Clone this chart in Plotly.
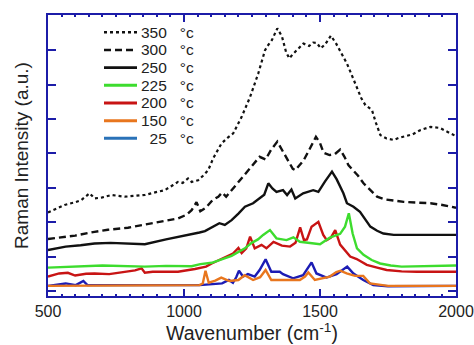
import plotly.graph_objects as go

# ---- data (wavenumber cm-1, intensity a.u.) ----
x350 = [500, 530, 561, 600, 622, 653, 671, 700, 733, 782, 820, 856, 890, 929, 960, 978, 995, 1015, 1028, 1052, 1070, 1089, 1107, 1126, 1138, 1160, 1181, 1212, 1243, 1273, 1298, 1310, 1323, 1343, 1360, 1375, 1387, 1400, 1420, 1439, 1460, 1475, 1488, 1503, 1520, 1540, 1560, 1580, 1599, 1618, 1636, 1652, 1667, 1691, 1705, 1722, 1745, 1771, 1790, 1808, 1840, 1870, 1906, 1940, 1970, 2000]
y350 = [2.28, 2.38, 2.50, 2.58, 2.64, 2.84, 2.69, 2.72, 2.79, 2.74, 2.76, 2.79, 2.86, 2.93, 3.08, 3.17, 3.14, 3.27, 3.17, 3.22, 3.35, 3.51, 3.85, 4.10, 4.29, 4.45, 4.58, 5.06, 5.64, 6.32, 7.0, 7.15, 7.29, 7.63, 7.40, 6.95, 6.76, 6.88, 7.05, 7.19, 7.12, 7.22, 7.21, 7.05, 7.18, 7.42, 7.18, 6.90, 6.61, 6.25, 5.93, 5.60, 5.40, 5.26, 4.90, 4.53, 4.43, 4.39, 4.45, 4.48, 4.55, 4.68, 4.77, 4.74, 4.62, 4.50]

x300 = [500, 550, 600, 671, 720, 794, 850, 917, 978, 1010, 1028, 1046, 1060, 1080, 1105, 1126, 1140, 1155, 1175, 1204, 1237, 1260, 1278, 1300, 1320, 1343, 1360, 1380, 1400, 1409, 1425, 1440, 1463, 1485, 1500, 1513, 1535, 1555, 1574, 1590, 1605, 1623, 1640, 1660, 1685, 1710, 1740, 1771, 1808, 1850, 1906, 1950, 2000]
y300 = [1.51, 1.56, 1.61, 1.72, 1.78, 1.84, 1.92, 2.01, 2.11, 2.22, 2.35, 2.58, 2.32, 2.42, 2.64, 2.74, 2.86, 2.74, 2.93, 3.22, 3.51, 3.75, 3.90, 3.82, 4.10, 4.34, 4.10, 3.80, 3.55, 3.51, 3.65, 3.80, 4.14, 4.48, 4.30, 4.02, 3.95, 3.98, 4.11, 3.90, 3.65, 3.50, 3.35, 3.13, 2.92, 2.74, 2.66, 2.62, 2.59, 2.57, 2.55, 2.50, 2.42]

x250 = [500, 565, 620, 671, 730, 786, 856, 934, 1003, 1057, 1077, 1110, 1130, 1150, 1175, 1200, 1224, 1254, 1280, 1295, 1310, 1325, 1340, 1364, 1379, 1395, 1409, 1438, 1475, 1494, 1518, 1544, 1561, 1586, 1599, 1623, 1647, 1670, 1685, 1710, 1733, 1771, 1856, 1950, 2000]
y250 = [1.19, 1.29, 1.33, 1.38, 1.40, 1.38, 1.36, 1.50, 1.60, 1.70, 1.74, 1.88, 1.97, 1.92, 2.06, 2.25, 2.45, 2.55, 2.70, 2.80, 3.13, 2.98, 2.88, 2.93, 2.79, 2.95, 2.69, 2.84, 2.93, 2.88, 3.18, 3.47, 3.25, 2.84, 2.55, 2.45, 2.30, 2.05, 1.87, 1.75, 1.67, 1.63, 1.63, 1.63, 1.63]

x225 = [500, 600, 700, 856, 934, 1028, 1060, 1102, 1140, 1175, 1224, 1249, 1272, 1291, 1316, 1340, 1377, 1402, 1426, 1464, 1500, 1536, 1574, 1592, 1606, 1620, 1636, 1660, 1690, 1721, 1760, 1800, 1900, 2000]
y225 = [0.68, 0.71, 0.74, 0.71, 0.73, 0.72, 0.78, 0.82, 0.92, 1.02, 1.24, 1.40, 1.50, 1.63, 1.77, 1.53, 1.48, 1.56, 1.43, 1.40, 1.36, 1.55, 1.66, 1.87, 2.26, 1.67, 1.24, 1.05, 0.90, 0.80, 0.74, 0.71, 0.72, 0.74]

x200 = [500, 541, 573, 600, 640, 671, 725, 786, 820, 844, 856, 885, 978, 1040, 1081, 1102, 1143, 1180, 1200, 1212, 1229, 1243, 1260, 1285, 1303, 1329, 1360, 1390, 1410, 1427, 1441, 1452, 1469, 1494, 1512, 1525, 1540, 1556, 1574, 1598, 1611, 1635, 1672, 1710, 1745, 1800, 1856, 2000]
y200 = [0.42, 0.51, 0.53, 0.45, 0.50, 0.51, 0.49, 0.56, 0.60, 0.66, 0.53, 0.56, 0.56, 0.64, 0.71, 0.80, 0.95, 1.09, 1.25, 1.10, 1.24, 1.58, 1.24, 1.34, 1.24, 1.43, 1.32, 1.29, 1.40, 1.85, 1.48, 1.50, 1.87, 2.01, 1.63, 1.48, 1.55, 1.77, 1.35, 1.12, 1.00, 0.93, 0.76, 0.68, 0.61, 0.57, 0.56, 0.56]

x150 = [500, 688, 1057, 1069, 1079, 1091, 1115, 1137, 1167, 1200, 1223, 1254, 1280, 1300, 1321, 1426, 1445, 1457, 1481, 1536, 1560, 1575, 1598, 1629, 1659, 1684, 1750, 2000]
y150 = [0.15, 0.15, 0.17, 0.22, 0.59, 0.24, 0.30, 0.39, 0.29, 0.32, 0.46, 0.32, 0.40, 0.61, 0.32, 0.32, 0.42, 0.54, 0.32, 0.42, 0.55, 0.59, 0.51, 0.44, 0.44, 0.22, 0.15, 0.15]

x25 = [500, 540, 565, 602, 615, 630, 645, 700, 811, 1057, 1140, 1165, 1180, 1192, 1202, 1217, 1235, 1260, 1278, 1290, 1300, 1321, 1352, 1364, 1401, 1438, 1455, 1469, 1487, 1524, 1561, 1585, 1600, 1623, 1659, 1696, 1750, 2000]
y25 = [0.15, 0.18, 0.22, 0.17, 0.22, 0.29, 0.17, 0.17, 0.15, 0.17, 0.22, 0.32, 0.24, 0.40, 0.59, 0.42, 0.49, 0.42, 0.61, 0.80, 0.92, 0.56, 0.56, 0.49, 0.37, 0.46, 0.65, 0.83, 0.51, 0.39, 0.49, 0.62, 0.71, 0.51, 0.32, 0.17, 0.14, 0.15]

labels = ["350", "300", "250", "225", "200", "150", "25"]
colors = ["#111111", "#111111", "#111111", "#3ddc2e", "#c81414", "#e8761e", "#1c1cb4"]
legend_colors = ["#111111", "#111111", "#111111", "#3ddc2e", "#c81414", "#e8761e", "#2a72b8"]
dashes = ["dot", "7px,4px", "solid", "solid", "solid", "solid", "solid"]
xs = [x350, x300, x250, x225, x200, x150, x25]
ys = [y350, y300, y250, y225, y200, y150, y25]

FONT = "Liberation Sans, Arial, sans-serif"
AX = "#1c1ca8"

fig = go.Figure()
for i in reversed(range(len(labels))):
    fig.add_trace(go.Scatter(
        x=xs[i], y=ys[i], mode="lines", name=labels[i] + " °c",
        line=dict(color=colors[i], width=2.4 if i != 0 else 2.2, dash=dashes[i]),
        showlegend=False, hoverinfo="skip"))

# legend (drawn manually to match the tight row spacing of the original)
L, R, T, B = 48, 456, 15, 296
row0, row_step = 32.3, 17.67  # pixel rows
def px2paper_x(px):
    return (px - L) / (R - L)
def px2paper_y(py):
    return (B - py) / (B - T)
NB = "\u00a0"
for i, lab in enumerate(labels):
    yy = px2paper_y(row0 + i * row_step)
    fig.add_shape(type="line", xref="paper", yref="paper",
                  x0=px2paper_x(104), x1=px2paper_x(137), y0=yy, y1=yy,
                  line=dict(color=legend_colors[i], width=3 if i > 2 else 2.6,
                            dash=dashes[i] if i < 2 else "solid"))
    pad = NB * (2 * (3 - len(lab)))
    fig.add_annotation(xref="paper", yref="paper", x=px2paper_x(140), y=yy,
                       text=pad + lab + NB * 3 + "°c", showarrow=False,
                       xanchor="left", yanchor="middle", borderpad=0,
                       font=dict(family=FONT, size=15.5, color="#222"))

fig.update_layout(
    width=474, height=345,
    margin=dict(l=L, r=474 - R, t=T, b=345 - B, autoexpand=False),
    paper_bgcolor="white", plot_bgcolor="white",
    font=dict(family=FONT, size=16, color="#222"),
    showlegend=False,
)
fig.update_xaxes(
    range=[500, 2000], tickvals=[500, 1000, 1500, 2000],
    ticks="inside", ticklen=7, tickwidth=2, tickcolor=AX,
    minor=dict(dtick=50, tick0=500, ticks="inside", ticklen=2, tickwidth=2, tickcolor=AX),
    showline=True, linecolor=AX, linewidth=2, mirror="ticks",
    showgrid=False, zeroline=False, automargin=False,
    tickfont=dict(family=FONT, size=16, color="#222"),
    title=dict(text="Wavenumber (cm<sup>-1</sup>)", font=dict(family=FONT, size=19.5, color="#222"), standoff=3),
)
fig.update_yaxes(
    range=[-0.145, 8.02], dtick=1, tick0=0,
    ticks="inside", ticklen=8, tickwidth=1.5, tickcolor=AX,
    showticklabels=False,
    showline=True, linecolor=AX, linewidth=2, mirror="ticks",
    showgrid=False, zeroline=False, automargin=False,
    title=dict(text="Raman Intensity (a.u.)", font=dict(family=FONT, size=19, color="#222"), standoff=12),
)

fig.write_html("out.html", config={"displayModeBar": False},
               post_script="document.body.style.margin='0';document.body.style.overflow='hidden';")
